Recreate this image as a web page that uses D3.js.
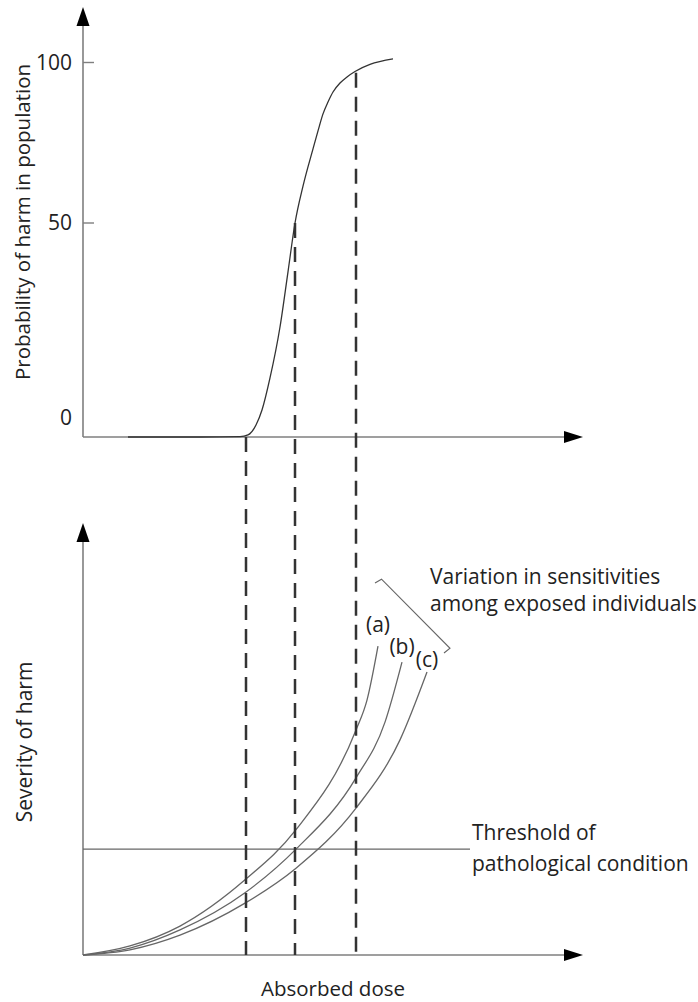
<!DOCTYPE html>
<html>
<head>
<meta charset="utf-8">
<script src="https://cdn.jsdelivr.net/npm/d3@7"></script>
<style>
  html, body { margin: 0; padding: 0; background: #fff; }
  svg { display: block; font-family: "Open Sans", "Noto Sans", sans-serif; }
</style>
</head>
<body>
<svg id="chart"></svg>
<script>
// dose is on an arbitrary 0..100 scale, both panels share it
const probTicks = [0, 50, 100];

// top panel: dose-response (sigmoid)
const sigmoidDose = [9, 23.4, 31.4, 33, 34.6, 35.8, 37.4, 39.4, 41, 42.4, 44, 46, 47, 48, 49, 50, 51.4, 52.8, 54.4, 57.4, 62];
const sigmoidProb = [0, 0, 0.1, 0.5, 2.8, 6.3, 13.8, 25.7, 38.6, 50, 61.5, 73.1, 78.7, 84.0, 87.7, 90.8, 93.6, 95.5, 97.2, 99.4, 101.1];

// bottom panel: severity curves for three individuals
const curveNames = ["(a)", "(b)", "(c)"];
const curveA = [[0, 0], [9.4, 2.1], [19.4, 6.7], [32.4, 17.4], [42.6, 29.0], [54.6, 52.1], [56.8, 59.0], [59, 71.5]];
const curveB = [[0, 0], [9.4, 1.6], [19.4, 5.8], [32.4, 14.4], [42.6, 24.5], [54.6, 41.0], [60.4, 53.9], [63.8, 67.8]];
const curveC = [[0, 0], [9.4, 1.2], [19.4, 4.6], [32.4, 12.0], [42.6, 20.1], [54.6, 34.0], [63.4, 49.8], [68.8, 65.5]];

// dashed guides: dose and the probability where each starts
const markerDose = [32.6, 42.4, 54.6];
const markerProb = [0, 50, 96.8];

const thresholdSeverity = 24.5;
const thresholdEnd = 77.4;

const width = 698, height = 1002;
const svg = d3.select("#chart").attr("width", width).attr("height", height);

const axisColor = "#7f7f7f";
const inkColor = "#333";
const fontSize = 21;

const x = d3.scaleLinear().domain([0, 100]).range([83, 583]);
const yTop = d3.scaleLinear().domain([0, 50, 100]).range([437, 223, 62.5]);
const yBot = d3.scaleLinear().domain([0, 100]).range([955, 523]);

function arrowUp(g, cx, tipY) {
    g.append("path")
        .attr("d", `M${cx},${tipY}L${cx - 6.5},${tipY + 19}L${cx + 6.5},${tipY + 19}Z`)
        .attr("fill", "#000");
}
function arrowRight(g, tipX, cy) {
    g.append("path")
        .attr("d", `M${tipX},${cy}L${tipX - 19},${cy - 6}L${tipX - 19},${cy + 6}Z`)
        .attr("fill", "#000");
}

function drawAxes(y, topY) {
    const g = svg.append("g");
    const x0 = x(0), y0 = y(0);
    g.append("line")
        .attr("x1", x0).attr("x2", x0)
        .attr("y1", y0).attr("y2", topY + 10)
        .attr("stroke", axisColor).attr("stroke-width", 1.6);
    g.append("line")
        .attr("x1", x0).attr("x2", x(100) - 10)
        .attr("y1", y0).attr("y2", y0)
        .attr("stroke", axisColor).attr("stroke-width", 1.6);
    arrowUp(g, x0, topY);
    arrowRight(g, x(100), y0);
    return g;
}

// ---- top panel ----
const topAxes = drawAxes(yTop, 7);

topAxes.selectAll(".tick")
    .data(probTicks.filter(d => d > 0))
    .enter().append("line")
    .attr("x1", x(0)).attr("x2", x(0) + 11)
    .attr("y1", d => yTop(d)).attr("y2", d => yTop(d))
    .attr("stroke", axisColor).attr("stroke-width", 1.4);

topAxes.selectAll(".tickLabel")
    .data(probTicks)
    .enter().append("text")
    .attr("x", 72)
    .attr("y", d => d === 0 ? yTop(d) - 19 : yTop(d))
    .attr("dy", "0.35em")
    .attr("text-anchor", "end")
    .attr("font-size", fontSize)
    .attr("fill", "#222")
    .text(d => d);

svg.append("text")
    .attr("transform", `translate(30,222) rotate(-90)`)
    .attr("text-anchor", "middle")
    .attr("font-size", 20.5)
    .attr("fill", "#222")
    .text("Probability of harm in population");

const sigmoid = sigmoidDose.map((d, i) => [d, sigmoidProb[i]]);
svg.append("path")
    .datum(sigmoid)
    .attr("fill", "none")
    .attr("stroke", inkColor)
    .attr("stroke-width", 1.3)
    .attr("d", d3.line().x(d => x(d[0])).y(d => yTop(d[1])).curve(d3.curveMonotoneX));

// ---- bottom panel ----
drawAxes(yBot, 523);

svg.append("text")
    .attr("transform", `translate(32,742) rotate(-90)`)
    .attr("text-anchor", "middle")
    .attr("font-size", fontSize)
    .attr("fill", "#222")
    .text("Severity of harm");

svg.append("line")
    .attr("x1", x(0)).attr("x2", x(thresholdEnd))
    .attr("y1", yBot(thresholdSeverity)).attr("y2", yBot(thresholdSeverity))
    .attr("stroke", "#666").attr("stroke-width", 1.4);

const curves = [curveA, curveB, curveC];
const labelLift = [21, 15, 12];
const sevLine = d3.line().x(d => x(d[0])).y(d => yBot(d[1])).curve(d3.curveMonotoneX);

svg.selectAll(".sev")
    .data(curves)
    .enter().append("path")
    .attr("fill", "none")
    .attr("stroke", "#666")
    .attr("stroke-width", 1.3)
    .attr("d", sevLine);

svg.selectAll(".sevLabel")
    .data(curves)
    .enter().append("text")
    .attr("x", d => x(d[d.length - 1][0]))
    .attr("y", (d, i) => yBot(d[d.length - 1][1]) - labelLift[i])
    .attr("dy", "0.35em")
    .attr("text-anchor", "middle")
    .attr("font-size", fontSize)
    .attr("fill", "#222")
    .text((d, i) => curveNames[i]);

// bracket round the three labels
const bracket = [[58.4, 86.1], [59.7, 87], [73.4, 71], [72.2, 69.9]];
svg.append("path")
    .datum(bracket)
    .attr("fill", "none")
    .attr("stroke", "#666")
    .attr("stroke-width", 1.1)
    .attr("d", d3.line().x(d => x(d[0])).y(d => yBot(d[1])));

const note = svg.append("text")
    .attr("x", 430).attr("y", 577)
    .attr("font-size", fontSize).attr("fill", "#222");
note.append("tspan").attr("x", 430).attr("dy", "0.35em").text("Variation in sensitivities");
note.append("tspan").attr("x", 430).attr("dy", 27).text("among exposed individuals");

const thr = svg.append("text")
    .attr("x", 472).attr("y", 833)
    .attr("font-size", fontSize).attr("fill", "#222");
thr.append("tspan").attr("x", 472).attr("dy", "0.35em").text("Threshold of");
thr.append("tspan").attr("x", 472).attr("dy", 31).text("pathological condition");

svg.append("text")
    .attr("x", 333).attr("y", 996)
    .attr("text-anchor", "middle")
    .attr("font-size", 20.5).attr("fill", "#222")
    .text("Absorbed dose");

// dashed guides from the sigmoid down to the bottom axis
svg.selectAll(".guide")
    .data(markerDose)
    .enter().append("line")
    .attr("x1", d => x(d)).attr("x2", d => x(d))
    .attr("y1", (d, i) => yTop(markerProb[i]))
    .attr("y2", yBot(0))
    .attr("stroke", inkColor)
    .attr("stroke-width", 2.5)
    .attr("stroke-dasharray", "15,9");
</script>
</body>
</html>
